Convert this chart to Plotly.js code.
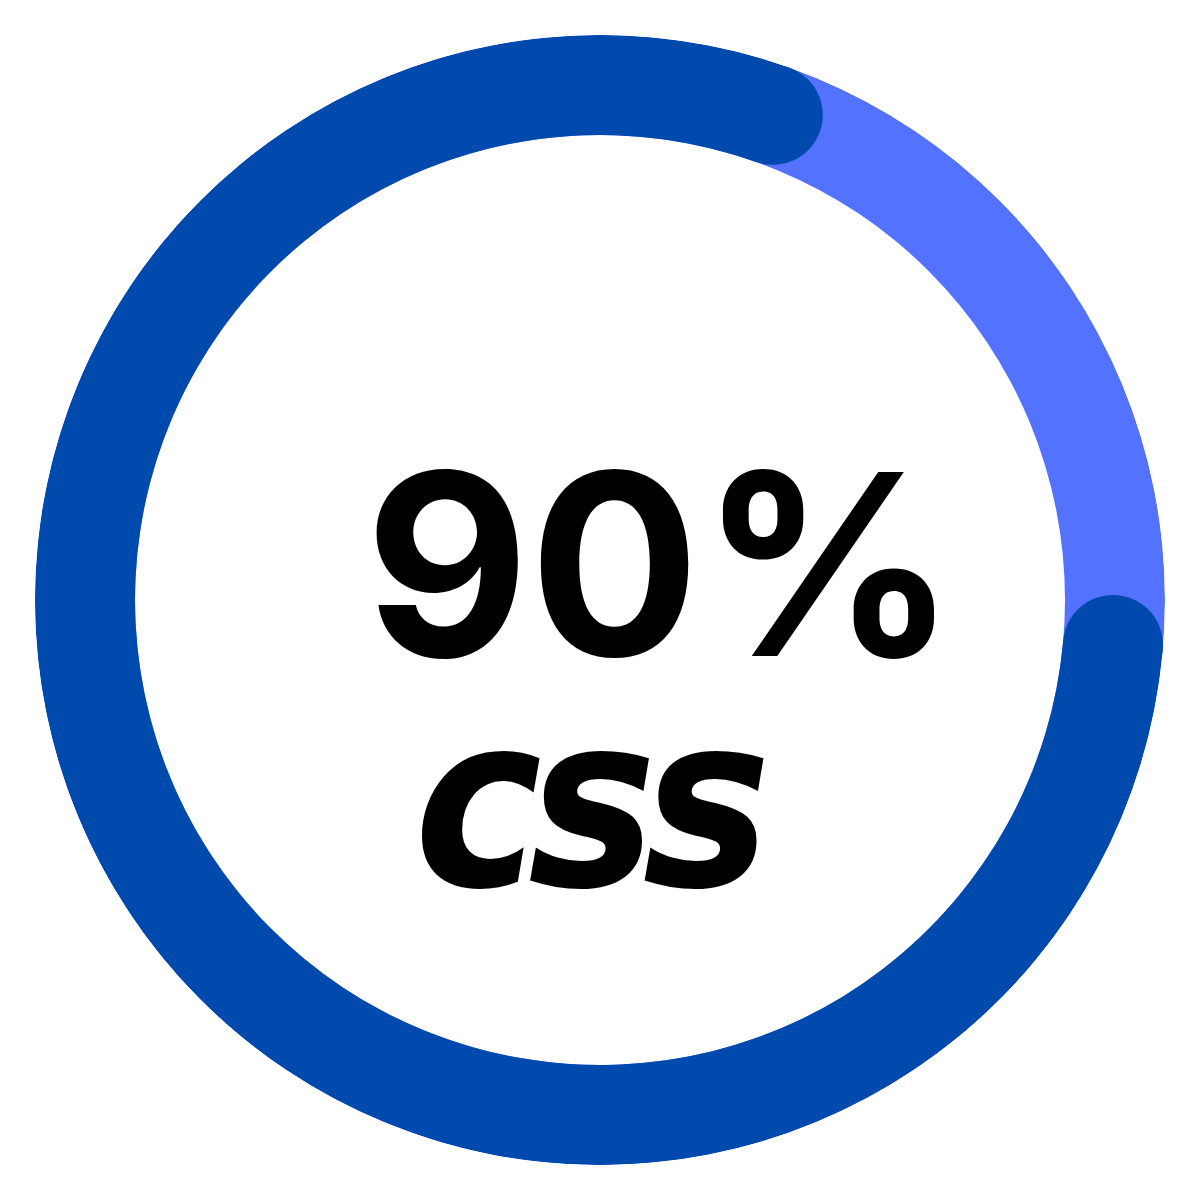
<!DOCTYPE html>
<html>
<head>
<meta charset="utf-8">
<script src="https://cdn.plot.ly/plotly-3.0.1.min.js"></script>
<style>
html,body{margin:0;padding:0;background:#fff;}
#chart{width:1200px;height:1200px;}
g.annotation[data-index="1"] text.annotation-text{letter-spacing:-14px;}
</style>
</head>
<body>
<div id="chart"></div>
<script>
// Data
const labelValue = "90%";
const labelName = "css";
const progressStartDeg = [95];     // start angle of the progress arc (clockwise from top)
const progressSweepDeg = [284.6];  // sweep of the progress arc
const trackSweepDeg = [360];
const innerRadius = 465;
const ringWidth = 100;
const outerRadius = innerRadius + ringWidth;

const darkBlue = "#0049AD";
const lightBlue = "#5372FF";

const progCenter = progressStartDeg.map((s, i) => s + progressSweepDeg[i] / 2);
const progEnds = [progressStartDeg[0], progressStartDeg[0] + progressSweepDeg[0]];

const traces = [
  {
    type: "barpolar",
    r: [ringWidth], base: [innerRadius], theta: [180], width: trackSweepDeg,
    marker: {color: lightBlue, line: {width: 0}},
    hoverinfo: "skip", showlegend: false
  },
  {
    type: "barpolar",
    r: [ringWidth], base: [innerRadius], theta: progCenter, width: progressSweepDeg,
    marker: {color: darkBlue, line: {width: 0}},
    hoverinfo: "skip", showlegend: false
  },
  {
    type: "scatterpolar", mode: "markers",
    r: progEnds.map(() => innerRadius + ringWidth / 2), theta: progEnds,
    marker: {color: darkBlue, size: ringWidth, line: {width: 0}},
    hoverinfo: "skip", showlegend: false, cliponaxis: false
  }
];

const layout = {
  width: 1200, height: 1200,
  margin: {l: 0, r: 0, t: 0, b: 0},
  paper_bgcolor: "#fff", plot_bgcolor: "#fff",
  showlegend: false,
  polar: {
    domain: {x: [35/1200, 1165/1200], y: [35/1200, 1165/1200]},
    bgcolor: "rgba(0,0,0,0)",
    bargap: 0,
    radialaxis: {visible: false, range: [0, outerRadius], showgrid: false},
    angularaxis: {visible: false, rotation: 90, direction: "clockwise", showgrid: false, showline: false}
  },
  annotations: [
    {
      text: labelValue, xref: "paper", yref: "paper", x: 0.551, y: 0.530,
      xanchor: "center", yanchor: "middle", showarrow: false,
      font: {family: "Inter, Roboto, sans-serif", size: 253, color: "#000", weight: 700}
    },
    {
      text: labelName, xref: "paper", yref: "paper", x: 0.4875, y: 0.331,
      xanchor: "center", yanchor: "middle", showarrow: false,
      font: {family: "DejaVu Sans Condensed, DejaVu Sans, sans-serif", size: 240, color: "#000", weight: 700, style: "italic"}
    }
  ]
};

Plotly.newPlot("chart", traces, layout, {staticPlot: true, displayModeBar: false});
</script>
</body>
</html>
